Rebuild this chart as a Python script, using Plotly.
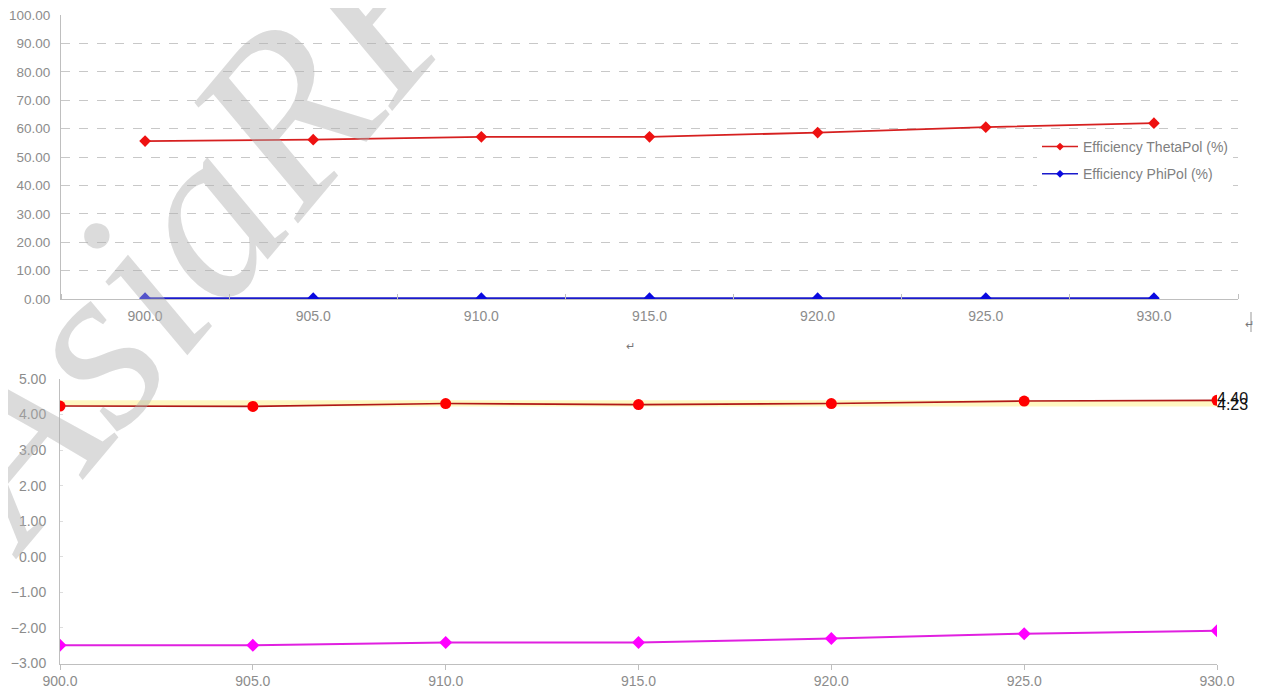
import plotly.graph_objects as go

freq = [900.0, 905.0, 910.0, 915.0, 920.0, 925.0, 930.0]
eff_theta = [55.6, 56.1, 57.1, 57.1, 58.6, 60.5, 61.9]
eff_phi = [0.3, 0.3, 0.3, 0.3, 0.3, 0.3, 0.3]
gain_max = [4.24, 4.23, 4.31, 4.28, 4.31, 4.38, 4.40]
gain_min = [-2.49, -2.49, -2.41, -2.41, -2.30, -2.16, -2.08]
top_yticks = [0, 10, 20, 30, 40, 50, 60, 70, 80, 90, 100]
bot_yticks = [-3, -2, -1, 0, 1, 2, 3, 4, 5]

FONT = "Liberation Sans"
GREY = "#8c8c8c"
AXIS = "#bfbfbf"
RED_T = "#d62020"
BLUE_T = "#1a1acc"

# page has an 8px body margin; figure fills the rest of the 1264x690 window
OFF = 8
W, H = 1264 - OFF, 690 - OFF


def px(x):
    return (x - OFF) / W


def py(y):
    return 1 - (y - OFF) / H


fig = go.Figure()

# ---- top chart ----
fig.add_trace(go.Scatter(
    x=freq, y=eff_theta, mode="lines+markers", name="Efficiency ThetaPol (%)",
    line=dict(color=RED_T, width=1.8),
    marker=dict(symbol="diamond", size=9, color="#ee1111"),
    xaxis="x", yaxis="y", showlegend=False))
fig.add_trace(go.Scatter(
    x=freq, y=eff_phi, mode="lines+markers", name="Efficiency PhiPol (%)",
    line=dict(color=BLUE_T, width=2),
    marker=dict(symbol="diamond", size=9, color="#0a0ae0"),
    xaxis="x", yaxis="y", showlegend=False))
# legend entries (small markers like the original)
fig.add_trace(go.Scatter(
    x=[None], y=[None], mode="lines+markers", name="Efficiency ThetaPol (%)",
    line=dict(color=RED_T, width=1.5), marker=dict(symbol="diamond", size=6, color="#ee1111"),
    xaxis="x", yaxis="y", legendgroup="a"))
fig.add_trace(go.Scatter(
    x=[None], y=[None], mode="lines+markers", name="Efficiency PhiPol (%)",
    line=dict(color=BLUE_T, width=1.5), marker=dict(symbol="diamond", size=6, color="#0a0ae0"),
    xaxis="x", yaxis="y", legendgroup="b"))

# ---- bottom chart ----
gmax = max(gain_max)
gmin = min(gain_max)
fig.add_trace(go.Scatter(
    x=[freq[0], freq[-1]], y=[gmin, gmin], mode="lines",
    line=dict(width=0, color="rgba(0,0,0,0)"), showlegend=False,
    xaxis="x2", yaxis="y2", hoverinfo="skip"))
fig.add_trace(go.Scatter(
    x=[freq[0], freq[-1]], y=[gmax, gmax], mode="lines", fill="tonexty",
    fillcolor="rgba(255,242,160,0.65)",
    line=dict(width=0, color="rgba(0,0,0,0)"), showlegend=False,
    xaxis="x2", yaxis="y2", hoverinfo="skip"))
fig.add_trace(go.Scatter(
    x=freq, y=gain_max, mode="lines+markers", showlegend=False,
    line=dict(color="#b01818", width=1.6),
    marker=dict(symbol="circle", size=11, color="#ff0000"),
    xaxis="x2", yaxis="y2"))
fig.add_trace(go.Scatter(
    x=freq, y=gain_min, mode="lines+markers", showlegend=False,
    line=dict(color="#e020e0", width=2),
    marker=dict(symbol="diamond", size=10, color="#ff00ff"),
    xaxis="x2", yaxis="y2"))
fig.add_trace(go.Scatter(
    x=[freq[-1], freq[-1]], y=[gmax, gmin], mode="text",
    text=[f"{gmax:.2f}", f"{gmin:.2f}"], textposition="middle right",
    textfont=dict(family=FONT, size=16, color="#111111"),
    showlegend=False, xaxis="x2", yaxis="y2", cliponaxis=False))

TF = dict(family=FONT, size=14, color=GREY)
fig.update_layout(
    width=W, height=H, margin=dict(l=0, r=0, t=0, b=0, autoexpand=False),
    paper_bgcolor="white", plot_bgcolor="rgba(0,0,0,0)",
    font=dict(family=FONT, size=12, color=GREY),
    showlegend=True,
    legend=dict(x=px(1037), y=py(131), xanchor="left", yanchor="top",
                bgcolor="white", font=dict(family=FONT, size=14, color="#7f7f7f"),
                tracegroupgap=6, traceorder="grouped", itemwidth=36),
    xaxis=dict(domain=[px(61), px(1238)], range=[897.5, 932.5],
               tickvals=freq, tickformat=".1f", ticks="", showgrid=False,
               showline=True, linecolor=AXIS, linewidth=1, zeroline=False,
               anchor="y", tickfont=TF, automargin=False, ticklabelstandoff=4,
               ticklabeloverflow="allow",
               minor=dict(tick0=897.5, dtick=5, ticks="inside", ticklen=5,
                          tickcolor=AXIS, showgrid=False)),
    yaxis=dict(domain=[py(299), py(15)], range=[0, 100],
               tickvals=top_yticks, tickformat=".2f", showgrid=True,
               gridcolor="#c8c8c8", griddash="dash", gridwidth=1,
               showline=True, linecolor=AXIS, zeroline=False, ticks="",
               anchor="x", tickfont=dict(family=FONT, size=13.5, color=GREY),
               automargin=False, ticklabelstandoff=7,
               ticklabeloverflow="allow"),
    xaxis2=dict(domain=[px(60), px(1217)], range=[900, 930],
                tickvals=freq, tickformat=".1f", ticks="outside", ticklen=5,
                tickcolor=AXIS, showgrid=False, showline=True, linecolor=AXIS,
                zeroline=False, anchor="y2", tickfont=TF, automargin=False,
                ticklabeloverflow="allow"),
    yaxis2=dict(domain=[py(663.5), py(379)], range=[-3, 5],
                tickvals=bot_yticks, tickformat=".2f", showgrid=False,
                showline=True, linecolor=AXIS, zeroline=False, ticks="inside",
                ticklen=3, tickcolor="#dddddd", anchor="x2",
                tickfont=TF, automargin=False, ticklabelstandoff=10,
                ticklabeloverflow="allow"),
)

fig.add_annotation(x=px(630), y=py(346), xref="paper", yref="paper",
                   text="↵", showarrow=False, font=dict(size=11, color="#777777"))
fig.add_annotation(x=px(1256), y=py(324), xref="paper", yref="paper",
                   text="↵", showarrow=False, font=dict(size=11, color="#777777"))
fig.add_shape(type="line", xref="paper", yref="paper",
              x0=px(1251), x1=px(1251), y0=py(312), y1=py(332),
              line=dict(color="#999999", width=1))

# watermark
fig.add_annotation(x=px(190), y=py(226), xref="paper", yref="paper",
                   xanchor="center", yanchor="middle",
                   text="AsiaRF", showarrow=False, textangle=-50,
                   font=dict(family="Liberation Serif", size=240,
                             color="rgba(175,175,175,0.45)", style="italic"))

fig.write_html("out.html")
